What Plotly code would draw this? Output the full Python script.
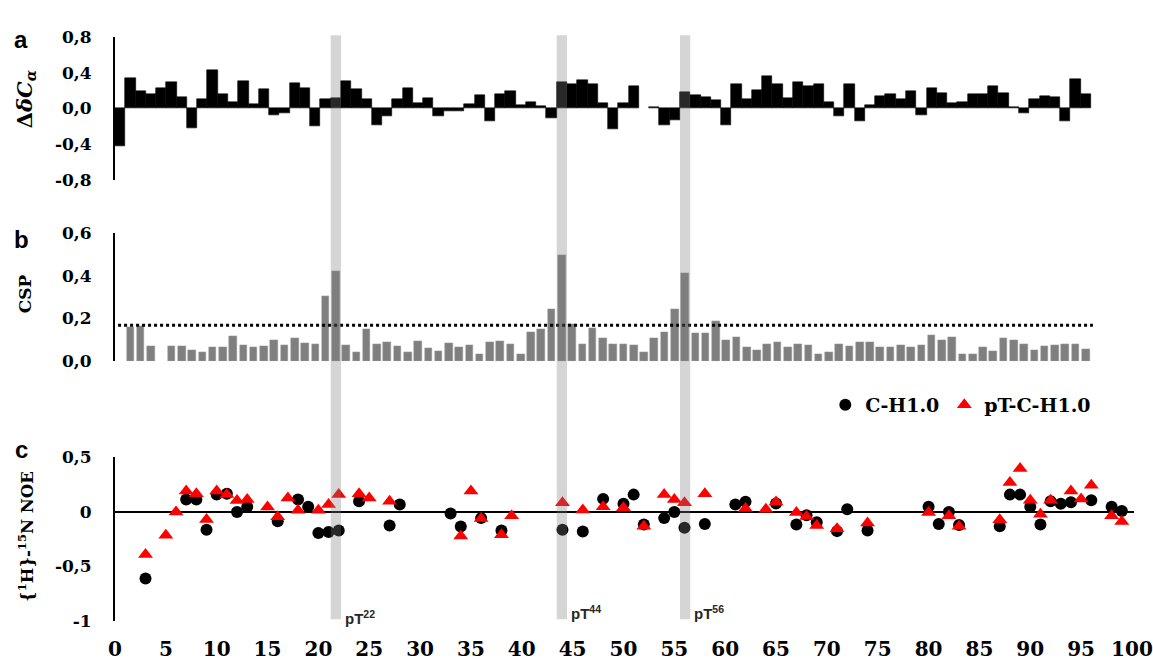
import plotly.graph_objects as go

# ---------------- data ----------------
residues = list(range(1, 96))

# a: secondary chemical shift differences (ΔδCα) per residue
delta_ca = [
    -0.42, 0.34, 0.19, 0.165, 0.225, 0.30, 0.13, -0.22, 0.10, 0.43,
    0.16, 0.075, 0.31, 0.045, 0.215, -0.08, -0.055, 0.28, 0.225, -0.195,
    0.10, 0.12, 0.31, 0.215, 0.10, -0.185, -0.09, 0.11, 0.225, 0.065,
    0.12, -0.09, -0.035, -0.025, 0.045, 0.145, -0.145, 0.16, 0.19, 0.035,
    0.075, 0.025, -0.105, 0.295, 0.27, 0.315, 0.27, 0.065, -0.23, 0.065,
    0.25, None, 0.02, -0.19, -0.13, 0.18, 0.145, 0.125, 0.09, -0.19,
    0.27, 0.11, 0.20, 0.365, 0.27, 0.12, 0.30, 0.25, 0.27, 0.075,
    -0.09, 0.27, -0.145, 0.035, 0.135, 0.16, 0.105, 0.19, -0.08, 0.225,
    0.17, 0.065, 0.075, 0.16, 0.16, 0.255, 0.17, 0.02, -0.055, 0.105,
    0.135, 0.125, -0.145, 0.33, 0.155,
]

# b: chemical shift perturbations per residue
csp = [
    None, 0.160, 0.163, 0.069, None, 0.072, 0.069, 0.053, 0.041, 0.067,
    0.067, 0.118, 0.076, 0.064, 0.072, 0.099, 0.076, 0.110, 0.085, 0.079,
    0.305, 0.420, 0.076, 0.044, 0.151, 0.081, 0.090, 0.072, 0.041, 0.096,
    0.061, 0.046, 0.084, 0.066, 0.073, 0.031, 0.087, 0.096, 0.078, 0.031,
    0.137, 0.148, 0.243, 0.496, 0.173, 0.078, 0.156, 0.110, 0.078, 0.078,
    0.073, 0.041, 0.107, 0.137, 0.243, 0.412, 0.133, 0.133, 0.188, 0.101,
    0.115, 0.064, 0.050, 0.082, 0.087, 0.066, 0.078, 0.073, 0.035, 0.041,
    0.078, 0.069, 0.087, 0.087, 0.066, 0.066, 0.073, 0.066, 0.073, 0.124,
    0.101, 0.115, 0.035, 0.035, 0.064, 0.046, 0.107, 0.101, 0.078, 0.050,
    0.069, 0.073, 0.078, 0.078, 0.055,
]
csp_threshold = 0.168

# c: heteronuclear NOE
noe_res_ch = [3, 7, 8, 9, 10, 11, 12, 13, 16, 18, 19, 20, 21, 22, 24, 27, 28,
              33, 34, 36, 38, 44, 46, 48, 50, 51, 52, 54, 55, 56, 58, 61, 62,
              65, 67, 68, 69, 71, 72, 74, 80, 81, 82, 83, 87, 88, 89, 90, 91,
              92, 93, 94, 96, 98, 99]
noe_ch = [-0.61, 0.113, 0.113, -0.164, 0.158, 0.167, 0.0, 0.048, -0.086, 0.113,
          0.048, -0.193, -0.185, -0.17, 0.098, -0.125, 0.068,
          -0.015, -0.134, -0.057, -0.17, -0.164, -0.179, 0.119, 0.074, 0.158,
          -0.116, -0.057, 0.0, -0.146, -0.11, 0.068, 0.092,
          0.077, -0.116, -0.03, -0.095, -0.176, 0.024, -0.17, 0.048, -0.11, 0.0,
          -0.119, -0.131, 0.158, 0.158, 0.048, -0.116,
          0.098, 0.074, 0.089, 0.107, 0.048, 0.009]

noe_res_pt = [3, 5, 6, 7, 8, 9, 10, 11, 12, 13, 15, 16, 17, 18, 20, 21, 22, 24,
              25, 27, 34, 35, 36, 38, 39, 44, 46, 48, 50, 52, 54, 55, 56, 58,
              62, 64, 65, 67, 68, 69, 71, 74, 80, 82, 83, 87, 88, 89, 90, 91,
              92, 94, 95, 96, 98, 99]
noe_pt = [-0.39, -0.214, 0.0, 0.19, 0.167, -0.07, 0.19, 0.158, 0.104, 0.113,
          0.045, -0.045, 0.128, 0.015, 0.015, 0.068, 0.158, 0.167,
          0.128, 0.098, -0.22, 0.19, -0.06, -0.208, -0.036, 0.083, 0.018, 0.048,
          0.039, -0.131, 0.158, 0.113, 0.083, 0.167,
          0.03, 0.024, 0.09, -0.006, -0.042, -0.125, -0.155, -0.101, -0.006,
          -0.036, -0.131, -0.071, 0.268, 0.396, 0.107, -0.021,
          0.107, 0.19, 0.119, 0.244, -0.036, -0.089]

phospho_sites = [22, 44, 56]

a_ticks = [0.8, 0.4, 0.0, -0.4, -0.8]
a_ticktext = ["0,8", "0,4", "0,0", "-0,4", "-0,8"]
b_ticks = [0.6, 0.4, 0.2, 0.0]
b_ticktext = ["0,6", "0,4", "0,2", "0,0"]
c_ticks = [0.5, 0, -0.5, -1]
c_ticktext = ["0,5", "0", "-0,5", "-1"]
x_ticks = list(range(0, 101, 5))

# ---------------- layout helpers ----------------
W, H = 1153, 670
ML, MR = 115, 18
PW = W - ML - MR


def py(px):
    """page pixel row -> paper y"""
    return 1 - px / H


def px_x(px):
    """page pixel column -> paper x"""
    return (px - ML) / PW


SERIF = "DejaVu Serif"
SANS = "Liberation Sans"
tickfont = dict(family=SERIF, size=17, color="black", weight="bold")

bar_x = [r - 0.5 for r in residues]

fig = go.Figure()

# a: ΔδCα bars
fig.add_trace(go.Bar(
    x=bar_x, y=delta_ca, width=1.0, xaxis="x", yaxis="y",
    marker=dict(color="black", line=dict(color="black", width=0.6)),
    showlegend=False, hoverinfo="skip",
))

# b: CSP bars + threshold
fig.add_trace(go.Bar(
    x=bar_x, y=csp, width=0.74, xaxis="x2", yaxis="y2",
    marker=dict(color="#7f7f7f", line=dict(color="#9a9a9a", width=0.5)),
    showlegend=False, hoverinfo="skip",
))
fig.add_trace(go.Scatter(
    x=[0.3, 95.2], y=[csp_threshold, csp_threshold], mode="lines",
    xaxis="x2", yaxis="y2",
    line=dict(color="black", width=3, dash="dot"),
    showlegend=False, hoverinfo="skip",
))

# c: NOE scatter
fig.add_trace(go.Scatter(
    x=noe_res_ch, y=noe_ch, mode="markers", name="C-H1.0",
    xaxis="x3", yaxis="y3",
    marker=dict(symbol="circle", size=12, color="black"),
))
fig.add_trace(go.Scatter(
    x=noe_res_pt, y=noe_pt, mode="markers", name="pT-C-H1.0",
    xaxis="x3", yaxis="y3",
    marker=dict(symbol="triangle-up", size=13, color="#ff0000"),
))

# phosphorylation-site bands across all panels
shapes = []
annotations = []
for s in phospho_sites:
    shapes.append(dict(
        type="rect", xref="x", yref="paper",
        x0=s - 1, x1=s, y0=py(628), y1=py(26),
        fillcolor="rgba(125,125,125,0.32)", line=dict(width=0), layer="above",
    ))
    annotations.append(dict(
        xref="x", yref="paper", x=s, y=py(626 if s == 22 else 621),
        xanchor="left", yanchor="middle", xshift=2, showarrow=False,
        text=f"<b>pT<sup>{s}</sup></b>",
        font=dict(family=SANS, size=15, color="#262626"),
    ))

# panel letters
for letter, row in [("a", 30), ("b", 237), ("c", 453)]:
    annotations.append(dict(
        xref="paper", yref="paper", x=px_x(21), y=py(row),
        xanchor="center", yanchor="middle", showarrow=False,
        text=f"<b>{letter}</b>",
        font=dict(family=SANS, size=24, color="black"),
    ))

# y-axis titles
annotations.append(dict(
    xref="paper", yref="paper", x=px_x(25), y=py(92), textangle=-90,
    xanchor="center", yanchor="middle", showarrow=False,
    text="<b>Δ<i>δC</i><sub><i>α</i></sub></b>",
    font=dict(family=SERIF, size=21, color="black"),
))
annotations.append(dict(
    xref="paper", yref="paper", x=px_x(25), y=py(293), textangle=-90,
    xanchor="center", yanchor="middle", showarrow=False,
    text="<b>CSP</b>",
    font=dict(family=SERIF, size=17, color="black"),
))
annotations.append(dict(
    xref="paper", yref="paper", x=px_x(26), y=py(543), textangle=-90,
    xanchor="center", yanchor="middle", showarrow=False,
    text="<b>{<sup>1</sup>H}-<sup>15</sup>N NOE</b>",
    font=dict(family=SERIF, size=16.5, color="black"),
))

yaxis_common = dict(
    showgrid=False, showline=True, linecolor="black", linewidth=2,
    ticks="", tickfont=tickfont, ticklabelstandoff=18, fixedrange=True,
)

fig.update_layout(
    width=W, height=H,
    margin=dict(l=ML, r=MR, t=0, b=0),
    paper_bgcolor="white", plot_bgcolor="white",
    bargap=0,
    showlegend=True,
    legend=dict(
        orientation="h", x=px_x(826), y=py(407), xanchor="left", yanchor="middle",
        font=dict(family=SERIF, size=19, color="black", weight="bold"),
        bgcolor="rgba(0,0,0,0)", itemwidth=30, tracegroupgap=0,
    ),
    xaxis=dict(domain=[0, 1], range=[0, 99.2], anchor="y", visible=False),
    xaxis2=dict(domain=[0, 1], range=[0, 99.2], anchor="y2", visible=False),
    xaxis3=dict(
        domain=[0, 1], range=[0, 100.2], anchor="y3",
        tickvals=x_ticks, ticktext=[str(v) for v in x_ticks],
        showgrid=False, zeroline=False, showline=False, ticks="",
        tickfont=dict(family=SERIF, size=20, color="black", weight="bold"),
        ticklabelstandoff=14, ticklabeloverflow="allow",
    ),
    yaxis=dict(domain=[py(175), py(28)], range=[-0.8, 0.8],
               tickvals=a_ticks, ticktext=a_ticktext, zeroline=False, anchor="x",
               **yaxis_common),
    yaxis2=dict(domain=[py(362), py(230)], range=[0, 0.6],
                tickvals=b_ticks, ticktext=b_ticktext, zeroline=False, anchor="x2",
                **yaxis_common),
    yaxis3=dict(domain=[py(630), py(461)], range=[-1, 0.5],
                tickvals=c_ticks, ticktext=c_ticktext, anchor="x3",
                zeroline=True, zerolinecolor="black", zerolinewidth=2,
                **yaxis_common),
    shapes=shapes,
    annotations=annotations,
)

fig.write_html("out.html")
